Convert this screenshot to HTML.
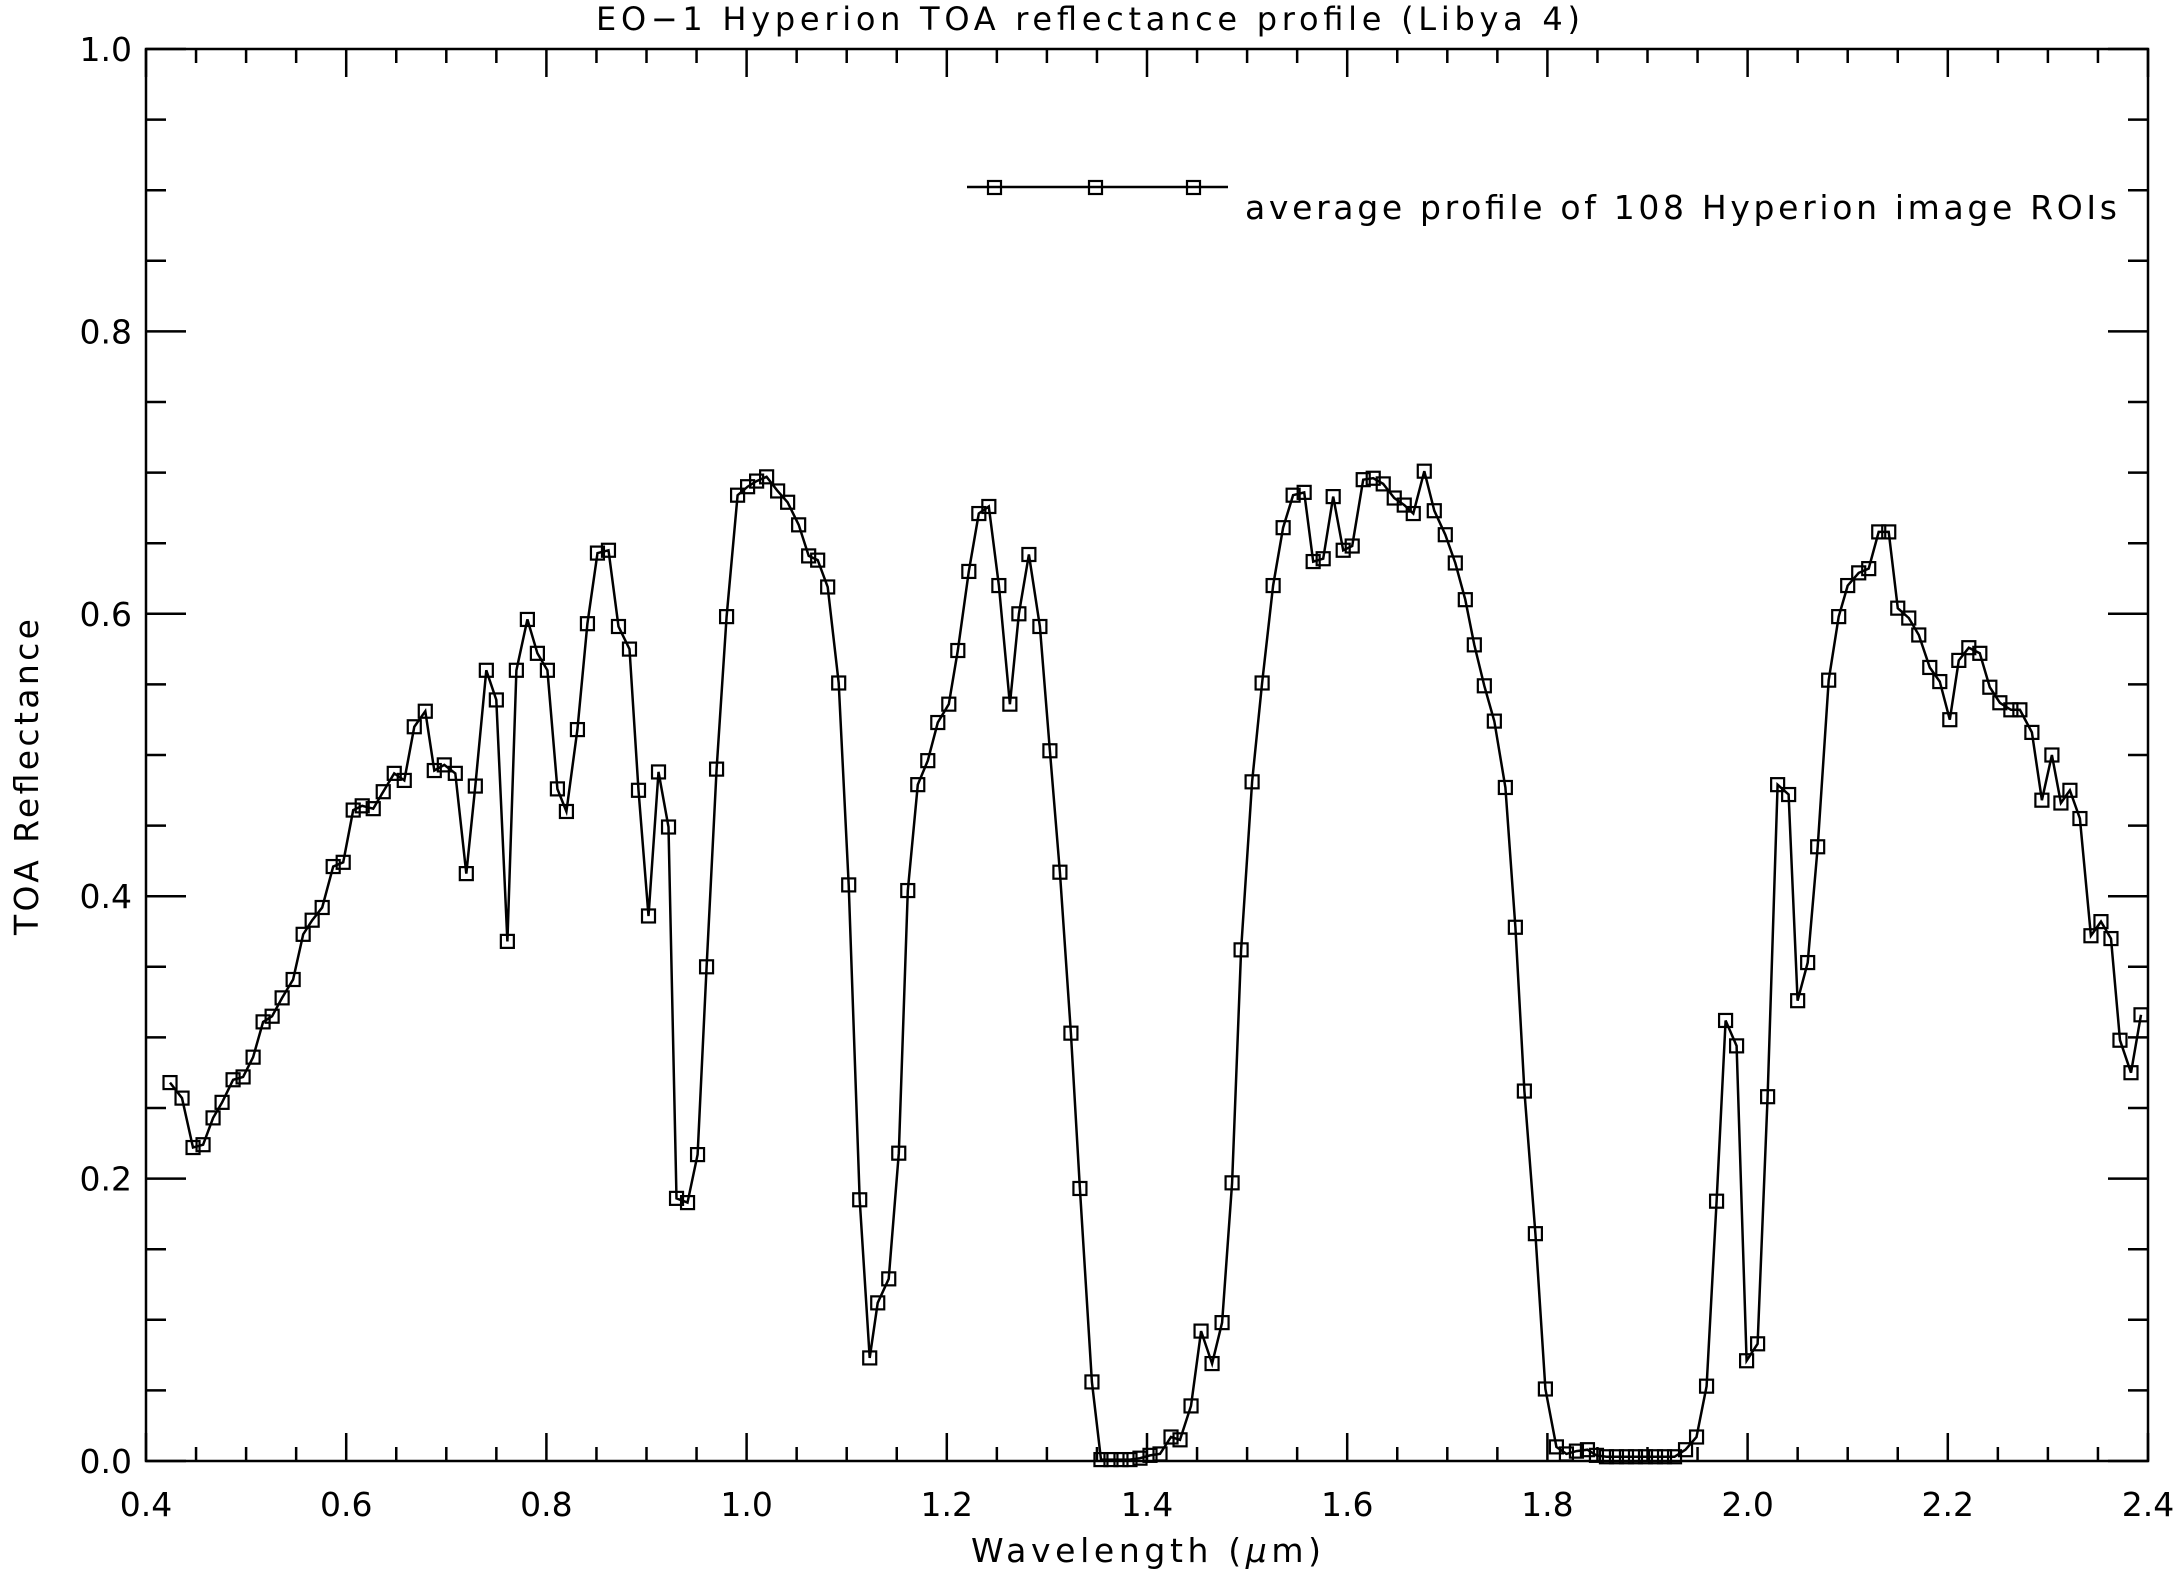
<!DOCTYPE html>
<html><head><meta charset="utf-8"><style>
html,body{margin:0;padding:0;background:#fff;}
svg{display:block;font-family:"DejaVu Sans","Liberation Sans",sans-serif;}
</style></head><body>
<svg id="chart" width="2176" height="1569" xmlns="http://www.w3.org/2000/svg">
<text x="596" y="30" font-size="32" textLength="984" lengthAdjust="spacing">EO−1 Hyperion TOA reflectance profile (Libya 4)</text>
<text x="0" y="0" font-size="33" text-anchor="middle" textLength="316" lengthAdjust="spacing" transform="translate(38,777) rotate(-90)">TOA Reflectance</text>
<text x="971" y="1562" font-size="33" textLength="350" lengthAdjust="spacing">Wavelength (<tspan font-style="italic">μ</tspan>m)</text>
<g id="axes"></g>
<g id="series"></g>
<g>
<line x1="967" y1="187" x2="1228" y2="187" stroke="#000" stroke-width="2.5"/>
<rect x="988" y="181" width="13" height="13" fill="none" stroke="#000" stroke-width="2.2"/>
<rect x="1089" y="181" width="13" height="13" fill="none" stroke="#000" stroke-width="2.2"/>
<rect x="1187" y="181" width="13" height="13" fill="none" stroke="#000" stroke-width="2.2"/>
<text x="1245" y="219" font-size="33" textLength="872" lengthAdjust="spacing">average profile of 108 Hyperion image ROIs</text>
</g>
</svg>
<script>
const wavelengths=[.424,.436,.447,.457,.467,.476,.487,.497,.507,.517,.526,.536,.547,.557,.566,.576,.587,.597,.607,.616,.627,.637,.648,.658,.668,.679,.688,.698,.709,.720,.729,.740,.750,.761,.770,.781,.791,.801,.811,.820,.831,.841,.851,.862,.872,.883,.892,.902,.912,.922,.930,.941,.951,.960,.970,.980,.991,1.001,1.010,1.020,1.031,1.041,1.052,1.062,1.071,1.081,1.092,1.102,1.113,1.123,1.131,1.142,1.152,1.161,1.171,1.181,1.191,1.202,1.211,1.222,1.232,1.242,1.252,1.263,1.272,1.282,1.293,1.303,1.313,1.324,1.333,1.345,1.354,1.364,1.374,1.383,1.393,1.403,1.413,1.424,1.433,1.444,1.454,1.465,1.475,1.485,1.494,1.505,1.515,1.526,1.536,1.546,1.557,1.566,1.576,1.586,1.596,1.605,1.616,1.626,1.636,1.647,1.657,1.666,1.677,1.687,1.698,1.708,1.718,1.727,1.737,1.747,1.758,1.768,1.777,1.788,1.798,1.809,1.819,1.829,1.840,1.849,1.859,1.869,1.879,1.888,1.898,1.908,1.917,1.927,1.938,1.949,1.959,1.969,1.978,1.989,1.999,2.010,2.020,2.030,2.041,2.050,2.060,2.070,2.081,2.091,2.100,2.111,2.121,2.131,2.141,2.150,2.161,2.171,2.182,2.192,2.202,2.211,2.221,2.232,2.242,2.252,2.263,2.272,2.284,2.294,2.304,2.313,2.322,2.332,2.343,2.353,2.363,2.372,2.383,2.393];
const reflectance=[.268,.257,.222,.224,.243,.254,.270,.272,.286,.311,.315,.328,.341,.373,.383,.392,.421,.424,.461,.464,.462,.474,.487,.482,.520,.531,.489,.493,.487,.416,.478,.560,.539,.368,.560,.596,.572,.560,.476,.460,.518,.593,.643,.645,.591,.575,.475,.386,.488,.449,.186,.183,.217,.350,.490,.598,.684,.690,.694,.697,.687,.679,.663,.641,.638,.619,.551,.408,.185,.073,.112,.129,.218,.404,.479,.496,.523,.536,.574,.630,.671,.676,.620,.536,.600,.642,.591,.503,.417,.303,.193,.056,.001,.001,.001,.001,.002,.004,.005,.017,.015,.039,.092,.069,.098,.197,.362,.481,.551,.620,.661,.684,.686,.637,.639,.683,.645,.648,.695,.696,.692,.682,.677,.671,.701,.673,.656,.636,.610,.578,.549,.524,.477,.378,.262,.161,.051,.010,.005,.007,.008,.004,.003,.003,.003,.003,.003,.003,.003,.003,.008,.017,.053,.184,.312,.294,.071,.083,.258,.479,.472,.326,.353,.435,.553,.598,.620,.629,.632,.658,.658,.604,.597,.585,.562,.552,.525,.567,.576,.572,.548,.537,.532,.532,.516,.468,.500,.466,.475,.455,.372,.382,.370,.298,.275,.316];
const xTickLabels=["0.4","0.6","0.8","1.0","1.2","1.4","1.6","1.8","2.0","2.2","2.4"];
const yTickLabels=["0.0","0.2","0.4","0.6","0.8","1.0"];
const X0=146,X1=2148,Y0=1461,Y1=49;
const xs=v=>X0+(v-0.4)/2.0*(X1-X0);
const ys=v=>Y0-v*(Y0-Y1);
const NS="http://www.w3.org/2000/svg";
function mk(tag,attrs,parent){const e=document.createElementNS(NS,tag);for(const k in attrs)e.setAttribute(k,attrs[k]);parent.appendChild(e);return e;}
const axes=document.getElementById('axes');
const frame=mk('rect',{x:X0,y:Y1,width:X1-X0,height:Y0-Y1,fill:'none',stroke:'#000','stroke-width':2.5},axes);


for(let i=0;i<=40;i++){const v=0.4+i*0.05;const x=xs(v);const L=(i%4===0)?28:14;
 mk('line',{x1:x,y1:Y0,x2:x,y2:Y0-L,stroke:'#000','stroke-width':2.5},axes);
 mk('line',{x1:x,y1:Y1,x2:x,y2:Y1+L,stroke:'#000','stroke-width':2.5},axes);}
for(let i=0;i<=20;i++){const v=i*0.05;const y=ys(v);const L=(i%4===0)?40:20;
 mk('line',{x1:X0,y1:y,x2:X0+L,y2:y,stroke:'#000','stroke-width':2.5},axes);
 mk('line',{x1:X1,y1:y,x2:X1-L,y2:y,stroke:'#000','stroke-width':2.5},axes);}
xTickLabels.forEach(t=>{const e=mk('text',{x:xs(parseFloat(t)),y:1516,'font-size':33,'text-anchor':'middle'},axes);e.textContent=t;
 
 });
yTickLabels.forEach(t=>{const e=mk('text',{x:132,y:ys(parseFloat(t))+12,'font-size':33,'text-anchor':'end'},axes);e.textContent=t;
 
 });
const ser=document.getElementById('series');
const pts=wavelengths.map((w,i)=>xs(w).toFixed(1)+','+ys(reflectance[i]).toFixed(1)).join(' ');
const line=mk('polyline',{points:pts,fill:'none',stroke:'#000','stroke-width':2.5},ser);


wavelengths.forEach((w,i)=>{const m=mk('rect',{x:xs(w)-6.5,y:ys(reflectance[i])-6.5,width:13,height:13,fill:'none',stroke:'#000','stroke-width':2.2},ser);
 
 });
</script>
</body></html>
